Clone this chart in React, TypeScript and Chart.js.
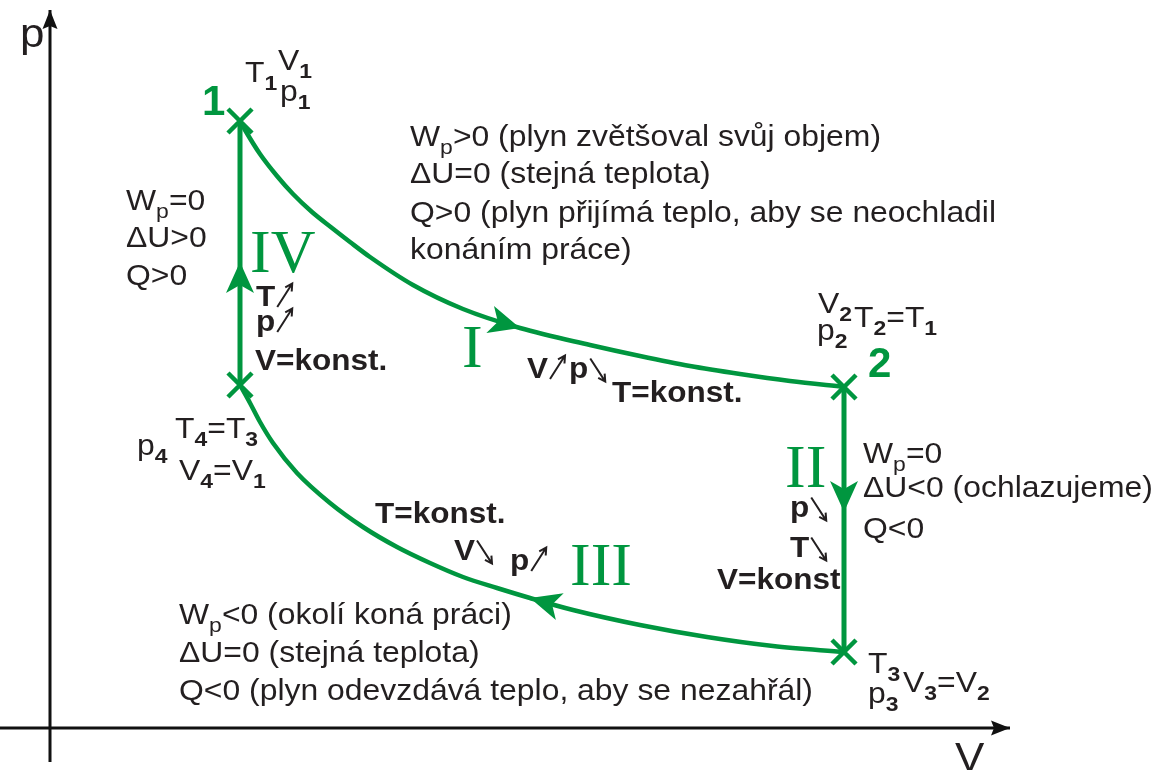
import React, { useEffect, useRef } from 'react';
import { Chart, registerables } from 'chart.js';

Chart.register(...registerables);

const GREEN = '#00963f';
const INK = '#231f20';

// ---- data (V, p in arbitrary units) ----
// State points 1, 2, 3, 4
const STATE_V = [19, 79.4, 79.4, 19];
const STATE_P = [60.7, 34.1, 7.6, 34.3];

// Isotherm I (1 -> 2), hot
const ISO_I_V = [19, 19.5, 21, 22.7, 24.3, 26.2, 28.2, 30, 32, 36.3, 41.3, 47, 54, 59, 64, 69, 74, 79.4];
const ISO_I_P = [60.7, 59.8, 57.4, 55.2, 53.4, 51.6, 50.0, 48.6, 47.1, 44.3, 41.9, 40.0, 38.3, 37.2, 36.2, 35.4, 34.7, 34.1];

// Isochore II (2 -> 3)
const ISO_II_V = [79.4, 79.4, 79.4];
const ISO_II_P = [34.1, 21.6, 7.6];

// Isotherm III (3 -> 4), cold
const ISO_III_V = [79.4, 72.3, 65.7, 59, 52.3, 48, 44.7, 41.3, 38, 34.7, 31.3, 28, 24.7, 22.3, 21, 20, 19];
const ISO_III_P = [7.6, 8.2, 9.1, 10.3, 11.8, 13.0, 14.0, 15.1, 16.5, 18.1, 20.1, 22.5, 25.5, 28.5, 30.6, 32.5, 34.3];

// Isochore IV (4 -> 1)
const ISO_IV_V = [19, 19, 19];
const ISO_IV_P = [34.3, 46.6, 60.7];

// Axes extents
const AXIS_V_RANGE = [-5, 96];
const AXIS_P_RANGE = [-3.4, 71.8];

// Direction arrows: series label + point index where the tip sits
const FLOW_ARROWS = [
  { series: 'I', index: 11 },
  { series: 'II', index: 1 },
  { series: 'III', index: 5 },
  { series: 'IV', index: 1 },
];

// Labels: text, V, p (baseline-left), style kind
const LABELS: { t: string; v: number; p: number; k: string }[] = [
  { t: 'p', v: -3, p: 68.1, k: 'axis' },
  { t: 'V', v: 90.5, p: -4.3, k: 'axis' },
  { t: '1', v: 15.2, p: 61.3, k: 'num' },
  { t: '2', v: 81.8, p: 35.1, k: 'num' },
  { t: 'IV', v: 20, p: 45.6, k: 'roman' },
  { t: 'I', v: 41.2, p: 36.1, k: 'roman' },
  { t: 'II', v: 73.5, p: 24.1, k: 'roman' },
  { t: 'III', v: 52, p: 14.3, k: 'roman' },
  { t: 'T_1', v: 19.5, p: 64.6, k: 'reg' },
  { t: 'V_1', v: 22.8, p: 65.8, k: 'reg' },
  { t: 'p_1', v: 23.0, p: 62.7, k: 'reg' },
  { t: 'W_p=0', v: 7.6, p: 51.8, k: 'reg' },
  { t: '\u0394U>0', v: 7.6, p: 48.1, k: 'reg' },
  { t: 'Q>0', v: 7.6, p: 44.3, k: 'reg' },
  { t: 'W_p>0 (plyn zvětšoval svůj objem)', v: 36, p: 58.2, k: 'reg' },
  { t: '\u0394U=0 (stejná teplota)', v: 36, p: 54.5, k: 'reg' },
  { t: 'Q>0 (plyn přijímá teplo, aby se neochladil', v: 36, p: 50.6, k: 'reg' },
  { t: 'konáním práce)', v: 36, p: 46.9, k: 'reg' },
  { t: 'V_2', v: 76.8, p: 41.5, k: 'reg' },
  { t: 'T_2=T_1', v: 80.4, p: 40.1, k: 'reg' },
  { t: 'p_2', v: 76.7, p: 38.8, k: 'reg' },
  { t: 'p_4', v: 8.7, p: 27.3, k: 'reg' },
  { t: 'T_4=T_3', v: 12.5, p: 29.0, k: 'reg' },
  { t: 'V_4=V_1', v: 12.9, p: 24.8, k: 'reg' },
  { t: 'W_p=0', v: 81.3, p: 26.5, k: 'reg' },
  { t: '\u0394U<0 (ochlazujeme)', v: 81.3, p: 23.1, k: 'reg' },
  { t: 'Q<0', v: 81.3, p: 19.0, k: 'reg' },
  { t: 'W_p<0 (okolí koná práci)', v: 12.9, p: 10.4, k: 'reg' },
  { t: '\u0394U=0 (stejná teplota)', v: 12.9, p: 6.6, k: 'reg' },
  { t: 'Q<0 (plyn odevzdává teplo, aby se nezahřál)', v: 12.9, p: 2.8, k: 'reg' },
  { t: 'T_3', v: 81.8, p: 5.5, k: 'reg' },
  { t: 'p_3', v: 81.8, p: 2.5, k: 'reg' },
  { t: 'V_3=V_2', v: 85.3, p: 3.6, k: 'reg' },
  { t: 'T↗', v: 20.6, p: 42.2, k: 'bold' },
  { t: 'p↗', v: 20.6, p: 39.7, k: 'bold' },
  { t: 'V=konst.', v: 20.5, p: 35.8, k: 'bold' },
  { t: 'V↗p↘', v: 47.7, p: 35.0, k: 'bold' },
  { t: 'T=konst.', v: 56.2, p: 32.6, k: 'bold' },
  { t: 'T=konst.', v: 32.5, p: 20.5, k: 'bold' },
  { t: 'V↘', v: 40.4, p: 16.8, k: 'bold' },
  { t: 'p↗', v: 46, p: 15.8, k: 'bold' },
  { t: 'p↘', v: 74, p: 21.1, k: 'bold' },
  { t: 'T↘', v: 74, p: 17.1, k: 'bold' },
  { t: 'V=konst', v: 66.7, p: 13.9, k: 'bold' },
];

const SANS = '"Liberation Sans", Arial, Helvetica, sans-serif';
const SERIF = '"Liberation Serif", "Times New Roman", serif';

type Style = { size: number; weight: string; family: string; color: string; stretch: number };
const STYLES: Record<string, Style> = {
  reg: { size: 29, weight: 'normal', family: SANS, color: INK, stretch: 1.1 },
  bold: { size: 30, weight: 'bold', family: SANS, color: INK, stretch: 1.05 },
  roman: { size: 62, weight: 'normal', family: SERIF, color: GREEN, stretch: 1 },
  num: { size: 42, weight: 'bold', family: SANS, color: GREEN, stretch: 1 },
  axis: { size: 40, weight: 'normal', family: SANS, color: INK, stretch: 1.1 },
};

const zip = (xs: number[], ys: number[]) => xs.map((x, i) => ({ x, y: ys[i] }));

function drawSeg(ctx: CanvasRenderingContext2D, s: string, x: number, y: number, stretch: number) {
  ctx.save();
  ctx.translate(x, y);
  ctx.scale(stretch, 1);
  ctx.fillText(s, 0, 0);
  ctx.restore();
  return ctx.measureText(s).width * stretch;
}

function drawSmallArrow(ctx: CanvasRenderingContext2D, x0: number, y0: number, x1: number, y1: number, color: string) {
  ctx.save();
  ctx.strokeStyle = color;
  ctx.lineWidth = 2;
  ctx.lineCap = 'butt';
  ctx.beginPath();
  ctx.moveTo(x0, y0);
  ctx.lineTo(x1, y1);
  const ang = Math.atan2(y1 - y0, x1 - x0);
  const hl = 8;
  const spread = 0.5;
  ctx.moveTo(x1 - hl * Math.cos(ang - spread), y1 - hl * Math.sin(ang - spread));
  ctx.lineTo(x1, y1);
  ctx.lineTo(x1 - hl * Math.cos(ang + spread), y1 - hl * Math.sin(ang + spread));
  ctx.stroke();
  ctx.restore();
}

function drawRich(ctx: CanvasRenderingContext2D, text: string, x: number, y: number, st: Style) {
  let cx = x;
  let i = 0;
  ctx.fillStyle = st.color;
  ctx.textBaseline = 'alphabetic';
  ctx.textAlign = 'left';
  while (i < text.length) {
    const ch = text[i];
    if (ch === '_' && i + 1 < text.length) {
      const s = text[i + 1];
      const bold = /[0-9]/.test(s) || st.weight === 'bold';
      ctx.font = `${bold ? 'bold' : 'normal'} ${st.size * 0.72}px ${st.family}`;
      cx += drawSeg(ctx, s, cx, y + st.size * 0.28, st.stretch);
      i += 2;
      continue;
    }
    if (ch === '↗' || ch === '↘') {
      const w = st.size * 0.5;
      if (ch === '↗') {
        drawSmallArrow(ctx, cx + 2, y + 1, cx + 2 + w, y - st.size * 0.75, st.color);
      } else {
        drawSmallArrow(ctx, cx + 2, y - st.size * 0.65, cx + 2 + w, y + st.size * 0.12, st.color);
      }
      cx += st.size * 0.7;
      i += 1;
      continue;
    }
    let j = i;
    while (j < text.length && text[j] !== '_' && text[j] !== '↗' && text[j] !== '↘') j++;
    ctx.font = `${st.weight} ${st.size}px ${st.family}`;
    cx += drawSeg(ctx, text.slice(i, j), cx, y, st.stretch);
    i = j;
  }
}

function drawHead(
  ctx: CanvasRenderingContext2D,
  tx: number, ty: number, dx: number, dy: number,
  len: number, half: number, notch: number, color: string
) {
  const m = Math.hypot(dx, dy) || 1;
  const ux = dx / m, uy = dy / m;
  const nx = -uy, ny = ux;
  ctx.save();
  ctx.fillStyle = color;
  ctx.beginPath();
  ctx.moveTo(tx, ty);
  ctx.lineTo(tx - ux * len + nx * half, ty - uy * len + ny * half);
  ctx.lineTo(tx - ux * (len - notch), ty - uy * (len - notch));
  ctx.lineTo(tx - ux * len - nx * half, ty - uy * len - ny * half);
  ctx.closePath();
  ctx.fill();
  ctx.restore();
}

const decorPlugin = {
  id: 'decor',
  afterDatasetsDraw(chart: any) {
    const ctx: CanvasRenderingContext2D = chart.ctx;
    const xs = chart.scales.x;
    const ys = chart.scales.y;
    const metaByLabel = (label: string) => {
      const idx = chart.data.datasets.findIndex((d: any) => d.label === label);
      return chart.getDatasetMeta(idx);
    };
    // flow arrows
    FLOW_ARROWS.forEach((a) => {
      const pts = metaByLabel(a.series).data;
      const p = pts[a.index];
      const prev = pts[Math.max(0, a.index - 1)];
      const next = pts[Math.min(pts.length - 1, a.index + 1)];
      drawHead(ctx, p.x, p.y, next.x - prev.x, next.y - prev.y, 31, 14, 8, GREEN);
    });
    // axis arrows
    ['axisV', 'axisP'].forEach((l) => {
      const pts = metaByLabel(l).data;
      const p = pts[pts.length - 1];
      const q = pts[pts.length - 2];
      drawHead(ctx, p.x, p.y, p.x - q.x, p.y - q.y, 19, 7.5, 3, '#111');
    });
    // labels
    LABELS.forEach((lb) => {
      drawRich(ctx, lb.t, xs.getPixelForValue(lb.v), ys.getPixelForValue(lb.p), STYLES[lb.k]);
    });
  },
};

export default function App() {
  const ref = useRef<HTMLCanvasElement>(null);
  useEffect(() => {
    document.body.style.margin = '0';
    const lineDs = (label: string, data: any[], width: number, smooth: boolean) => ({
      label,
      data,
      showLine: true,
      borderColor: GREEN,
      borderWidth: width,
      pointRadius: 0,
      tension: smooth ? 0.4 : 0,
      cubicInterpolationMode: smooth ? 'monotone' : 'default',
      fill: false,
      clip: false as any,
    });
    const chart = new Chart(ref.current as HTMLCanvasElement, {
      type: 'scatter',
      data: {
        datasets: [
          {
            label: 'states',
            data: zip(STATE_V, STATE_P),
            showLine: false,
            pointStyle: 'crossRot',
            pointRadius: 17,
            pointBorderWidth: 4.5,
            pointBorderColor: GREEN,
            borderColor: GREEN,
            clip: false as any,
          } as any,
          lineDs('I', zip(ISO_I_V, ISO_I_P), 4.5, true) as any,
          lineDs('II', zip(ISO_II_V, ISO_II_P), 5, false) as any,
          lineDs('III', zip(ISO_III_V, ISO_III_P), 4.5, true) as any,
          lineDs('IV', zip(ISO_IV_V, ISO_IV_P), 5, false) as any,
          {
            label: 'axisV',
            data: [{ x: AXIS_V_RANGE[0], y: 0 }, { x: AXIS_V_RANGE[1], y: 0 }],
            showLine: true,
            borderColor: '#111',
            borderWidth: 3,
            pointRadius: 0,
            clip: false as any,
          } as any,
          {
            label: 'axisP',
            data: [{ x: 0, y: AXIS_P_RANGE[0] }, { x: 0, y: AXIS_P_RANGE[1] }],
            showLine: true,
            borderColor: '#111',
            borderWidth: 3,
            pointRadius: 0,
            clip: false as any,
          } as any,
        ],
      },
      options: {
        responsive: false,
        animation: false,
        events: [],
        layout: { padding: 0, autoPadding: false },
        scales: {
          x: { type: 'linear', min: -5, max: 110.4, display: false },
          y: { type: 'linear', min: -4.2, max: 72.8, display: false },
        },
        plugins: {
          legend: { display: false },
          tooltip: { enabled: false },
        },
      },
      plugins: [decorPlugin],
    });
    return () => chart.destroy();
  }, []);
  return (
    <div style={{ width: 1154, height: 770, background: '#fff' }}>
      <canvas ref={ref} width={1154} height={770} style={{ display: 'block' }} />
    </div>
  );
}
